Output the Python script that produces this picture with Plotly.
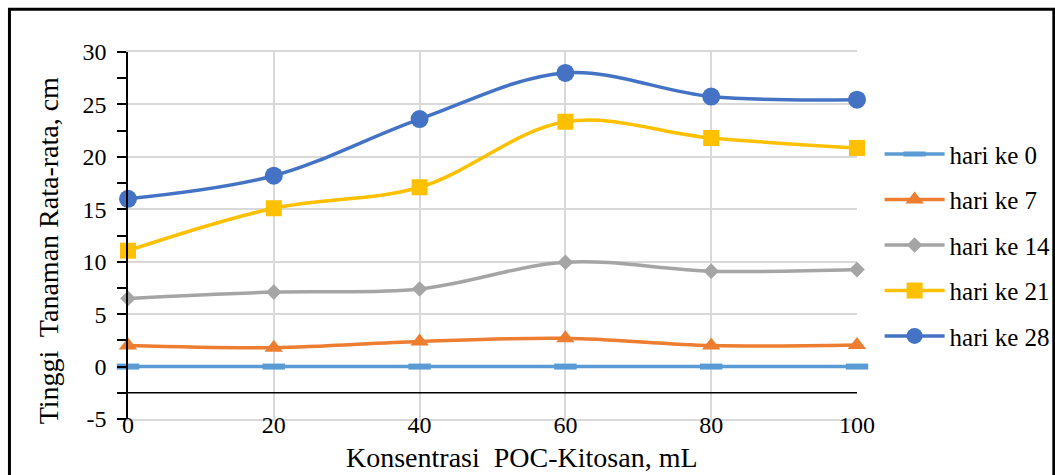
import plotly.graph_objects as go

# Konsentrasi POC-Kitosan (mL)
konsentrasi = [0, 20, 40, 60, 80, 100]

# Tinggi tanaman rata-rata (cm) per hari pengamatan
hari_0 = [0, 0, 0, 0, 0, 0]
hari_7 = [2.0, 1.8, 2.4, 2.7, 2.0, 2.05]
hari_14 = [6.5, 7.1, 7.4, 9.95, 9.1, 9.25]
hari_21 = [11.05, 15.1, 17.1, 23.35, 21.8, 20.85]
hari_28 = [16.0, 18.2, 23.6, 28.0, 25.75, 25.45]

series_names = ["hari ke 0", "hari ke 7", "hari ke 14", "hari ke 21", "hari ke 28"]
series_colors = ["#5B9BD5", "#ED7D31", "#A5A5A5", "#FFC000", "#4472C4"]

y_tick_values = [-5, 0, 5, 10, 15, 20, 25, 30]
y_tick_labels = ["-5", "0", "5", "10", "15", "20", "25", "30"]
x_tick_values = [0, 20, 40, 60, 80, 100]
x_tick_labels = ["0", "20", "40", "60", "80", "100"]

x_title = "Konsentrasi  POC-Kitosan, mL"
y_title = "Tinggi  Tanaman Rata-rata, cm"

# horizontal axis crosses the vertical axis at this value
x_axis_cross = -2.5

FONT = "Liberation Serif"
GRID = "#D9D9D9"

marker_styles = [
    dict(symbol="line-ew", size=16, line=dict(width=6, color=series_colors[0])),
    dict(symbol="triangle-up", size=16, color=series_colors[1]),
    dict(symbol="diamond", size=12, color=series_colors[2]),
    dict(symbol="square", size=16, color=series_colors[3]),
    dict(symbol="circle", size=18, color=series_colors[4]),
]

fig = go.Figure()
for i, (name, values) in enumerate(zip(series_names, [hari_0, hari_7, hari_14, hari_21, hari_28])):
    fig.add_trace(go.Scatter(
        x=konsentrasi,
        y=values,
        name=name,
        mode="lines+markers",
        line=dict(color=series_colors[i], width=3.5, shape="spline", smoothing=1.0),
        marker=marker_styles[i],
        cliponaxis=False,
        legendgroup=name,
    ))

# axis line where the horizontal axis crosses
fig.add_shape(type="line", xref="x", yref="y",
              x0=konsentrasi[0], x1=konsentrasi[-1], y0=x_axis_cross, y1=x_axis_cross,
              line=dict(color="black", width=1.5), layer="above")

# chart frame
fig.add_shape(type="rect", xref="paper", yref="paper",
              x0=-0.1626, x1=1.270, y0=-0.17, y1=1.1166,
              line=dict(color="black", width=3), layer="above")

fig.add_annotation(text=x_title, xref="paper", yref="paper", x=0.541, y=-0.105,
                   xanchor="center", yanchor="middle", showarrow=False,
                   font=dict(family=FONT, size=28, color="black"))
fig.add_annotation(text=y_title, xref="paper", yref="paper", x=-0.1097, y=0.457,
                   xanchor="center", yanchor="middle", showarrow=False, textangle=-90,
                   font=dict(family=FONT, size=28, color="black"))

fig.update_layout(
    width=1055, height=475,
    margin=dict(l=128, r=198, t=52, b=56, autoexpand=False),
    paper_bgcolor="white", plot_bgcolor="white",
    font=dict(family=FONT, size=24, color="black"),
    showlegend=True,
    legend=dict(x=1.031, xanchor="left", y=0.4736, yanchor="middle",
                font=dict(family=FONT, size=25, color="black"),
                traceorder="grouped", tracegroupgap=10, itemwidth=60,
                bgcolor="rgba(0,0,0,0)"),
    xaxis=dict(range=[0, 100], tickvals=x_tick_values, ticktext=x_tick_labels,
               tickfont=dict(family=FONT, size=24, color="black"),
               showgrid=True, gridcolor=GRID, gridwidth=1.5,
               zeroline=False, showline=True, linecolor=GRID, linewidth=1.5,
               mirror=True, ticks="",
               ticklabelstandoff=-17),
    yaxis=dict(range=[-5, 30], tickvals=y_tick_values, ticktext=y_tick_labels,
               tickfont=dict(family=FONT, size=24, color="black"),
               showgrid=True, gridcolor=GRID, gridwidth=1.5,
               zeroline=False, showline=True, linecolor="black", linewidth=1.5,
               ticks="outside", ticklen=9, tickcolor="black", tickwidth=1.5,
               minor=dict(tickvals=[-2.5, 2.5, 7.5, 12.5, 17.5, 22.5, 27.5],
                          ticks="outside", ticklen=9, tickcolor="black", tickwidth=1.5),
               ticklabelstandoff=6),
)

fig.write_html("out.html")
